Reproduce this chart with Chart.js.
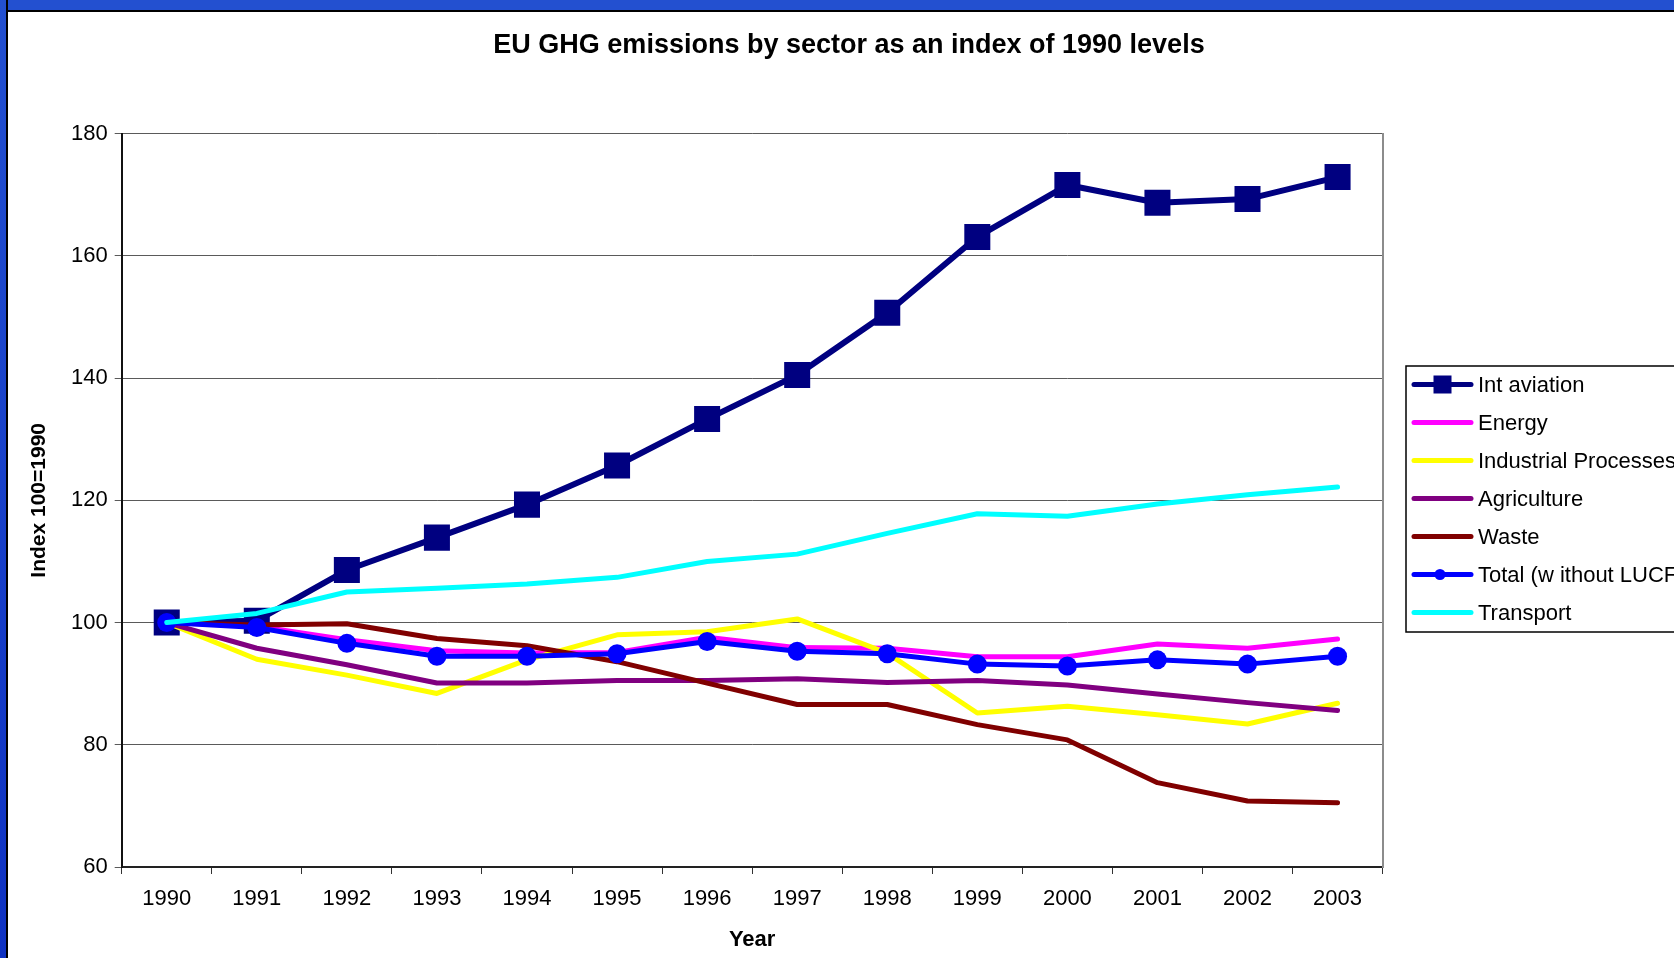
<!DOCTYPE html>
<html>
<head>
<meta charset="utf-8">
<script src="https://cdn.jsdelivr.net/npm/chart.js@4.4.1/dist/chart.umd.min.js"></script>
<style>
  html, body { margin: 0; padding: 0; background: #fff; }
  body { width: 1674px; height: 958px; position: relative; overflow: hidden; }
  #chart { position: absolute; left: 0; top: 0; }
  .frame-top { position: absolute; left: 0; top: 0; width: 1674px; height: 10px; background: #2350d0; border-bottom: 2px solid #000; }
  .frame-left { position: absolute; left: 0; top: 0; width: 6px; height: 958px; background: linear-gradient(#2350d0, #0f32c2); border-right: 2px solid #000; }
</style>
</head>
<body>
<canvas id="chart" width="1674" height="958"></canvas>
<div class="frame-top"></div>
<div class="frame-left"></div>
<script>
// Chart data
const years = ["1990", "1991", "1992", "1993", "1994", "1995", "1996", "1997", "1998", "1999", "2000", "2001", "2002", "2003"];
const intAviation = [100, 100.3, 108.6, 113.9, 119.3, 125.7, 133.3, 140.5, 150.7, 163.1, 171.6, 168.7, 169.3, 172.9];
const energy = [100, 99.4, 97.2, 95.4, 95.0, 95.1, 97.6, 95.9, 95.8, 94.4, 94.4, 96.5, 95.8, 97.3];
const industrial = [100, 94.0, 91.4, 88.4, 93.9, 98.0, 98.5, 100.6, 95.0, 85.2, 86.3, 84.9, 83.4, 86.8];
const agriculture = [100, 95.8, 93.1, 90.1, 90.1, 90.5, 90.5, 90.8, 90.2, 90.5, 89.8, 88.3, 86.9, 85.6];
const waste = [100, 99.6, 99.8, 97.4, 96.2, 93.6, 90.1, 86.6, 86.6, 83.3, 80.8, 73.8, 70.8, 70.5];
const total = [100, 99.2, 96.6, 94.5, 94.5, 94.9, 96.9, 95.3, 94.9, 93.2, 92.9, 93.9, 93.2, 94.5];
const transport = [100, 101.5, 105.0, 105.6, 106.3, 107.4, 110.0, 111.2, 114.6, 117.8, 117.4, 119.4, 120.9, 122.2];

const FONT = "'Liberation Sans', Arial, sans-serif";

// Build one line dataset, later ones drawn on top like in Excel
function makeSeries(label, data, color, index, extra) {
  return Object.assign({
    label: label,
    data: data,
    borderColor: color,
    backgroundColor: color,
    borderWidth: 5,
    borderCapStyle: "round",
    borderJoinStyle: "round",
    pointRadius: 0,
    tension: 0,
    order: 10 - index,
  }, extra || {});
}

// Legend box on the right, running off the edge like the original
const legendBox = {
  id: "legendBox",
  afterDraw(chart) {
    const ctx = chart.ctx;
    ctx.save();
    ctx.strokeStyle = "#000";
    ctx.lineWidth = 1.5;
    ctx.strokeRect(1406, 366, 320, 266);
    chart.data.datasets.forEach((ds, i) => {
      const y = 384.5 + i * 38;
      ctx.strokeStyle = ds.borderColor;
      ctx.lineWidth = 5;
      ctx.lineCap = "round";
      ctx.beginPath();
      ctx.moveTo(1414, y);
      ctx.lineTo(1471, y);
      ctx.stroke();
      if (ds.pointStyle === "rect") {
        ctx.fillStyle = ds.borderColor;
        ctx.fillRect(1433.5, y - 9, 18, 18);
      } else if (ds.pointStyle === "circle") {
        ctx.fillStyle = ds.borderColor;
        ctx.beginPath();
        ctx.arc(1440, y, 5.5, 0, Math.PI * 2);
        ctx.fill();
      }
      ctx.fillStyle = "#000";
      ctx.font = "22px " + FONT;
      ctx.textBaseline = "middle";
      ctx.textAlign = "left";
      ctx.fillText(ds.label, 1478, y + 1);
    });
    ctx.restore();
  },
};

const ctx = document.getElementById("chart").getContext("2d");

new Chart(ctx, {
  type: "line",
  data: {
    labels: years,
    datasets: [
      makeSeries("Int aviation", intAviation, "#000080", 0, {
        borderWidth: 6, pointStyle: "rect", pointRadius: 18.4, pointBorderWidth: 0,
      }),
      makeSeries("Energy", energy, "#ff00ff", 1),
      makeSeries("Industrial Processes", industrial, "#ffff00", 2),
      makeSeries("Agriculture", agriculture, "#800080", 3),
      makeSeries("Waste", waste, "#800000", 4),
      makeSeries("Total (w ithout LUCF)", total, "#0000ff", 5, {
        pointStyle: "circle", pointRadius: 9.5, pointBorderWidth: 0,
      }),
      makeSeries("Transport", transport, "#00ffff", 6),
    ],
  },
  options: {
    responsive: false,
    animation: false,
    events: [],
    layout: { padding: { left: 24, right: 0, top: 0, bottom: 0 } },
    plugins: {
      legend: { display: false },
      tooltip: { enabled: false },
      title: {
        display: true,
        text: "EU GHG emissions by sector as an index of 1990 levels",
        color: "#000",
        font: { family: FONT, size: 27, weight: "bold" },
        padding: { top: 29.8, bottom: 71.5 },
      },
    },
    scales: {
      x: {
        offset: true,
        grid: { offset: true, drawOnChartArea: false, drawTicks: true, tickLength: 7, color: "#333" },
        border: { display: true, color: "#222", width: 2 },
        ticks: { color: "#000", font: { family: FONT, size: 22 }, padding: 12, maxRotation: 0, autoSkip: false },
        title: {
          display: true, text: "Year", color: "#000",
          font: { family: FONT, size: 22, weight: "bold" },
          padding: { top: 0, bottom: 5 },
        },
        afterFit(scale) { scale.height = 91; },
      },
      y: {
        min: 60,
        max: 180,
        ticks: { stepSize: 20, color: "#000", font: { family: FONT, size: 22 }, padding: 7 },
        grid: { color: "#5a5a5a", lineWidth: 1, tickLength: 7 },
        border: { display: true, color: "#111", width: 2 },
        title: {
          display: true, text: "Index 100=1990", color: "#000",
          font: { family: FONT, size: 21, weight: "bold" },
          padding: { top: 2.9, bottom: 0 },
        },
        afterFit(scale) { scale.width = 97.7; },
      },
      // empty right axis: reserves the legend space and draws the grey right frame
      yRight: {
        type: "linear",
        position: "right",
        min: 60,
        max: 180,
        grid: { display: false },
        ticks: { display: false },
        border: { display: true, color: "#8c8c8c", width: 2 },
        afterFit(scale) { scale.width = 291.4; },
      },
    },
  },
  plugins: [legendBox],
});
</script>
</body>
</html>
